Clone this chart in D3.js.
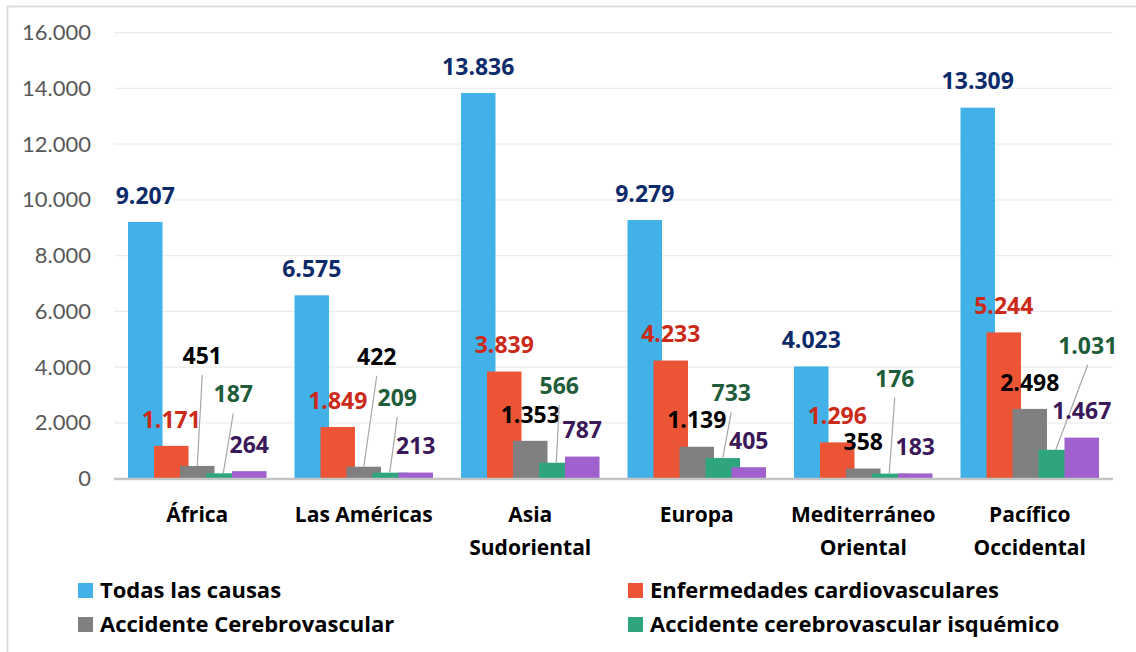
<!DOCTYPE html>
<html>
<head>
<meta charset="utf-8">
<script src="https://cdn.jsdelivr.net/npm/d3@7"></script>
<style>
  html, body { margin: 0; padding: 0; background: #fff; }
  svg { display: block; font-family: "Open Sans", Lato, sans-serif; }
</style>
</head>
<body>
<svg id="chart" width="1136" height="652"></svg>
<script>
// ---------- data ----------
const categories = ["África", "Las Américas", "Asia Sudoriental", "Europa", "Mediterráneo Oriental", "Pacífico Occidental"];
const categoryLines = [["África"], ["Las Américas"], ["Asia", "Sudoriental"], ["Europa"], ["Mediterráneo", "Oriental"], ["Pacífico", "Occidental"]];
const seriesNames = ["Todas las causas", "Enfermedades cardiovasculares", "Accidente Cerebrovascular", "Accidente cerebrovascular isquémico", "Accidente cerebrovascular hemorrágico"];
const todasLasCausas = [9207, 6575, 13836, 9279, 4023, 13309];
const cardiovasculares = [1171, 1849, 3839, 4233, 1296, 5244];
const cerebrovascular = [451, 422, 1353, 1139, 358, 2498];
const isquemico = [187, 209, 566, 733, 176, 1031];
const hemorragico = [264, 213, 787, 405, 183, 1467];
const yTicks = [0, 2000, 4000, 6000, 8000, 10000, 12000, 14000, 16000];
const legendSeries = [0, 1, 2, 3];

// ---------- styles ----------
const barColors = ["#41B1E8", "#EB5434", "#808080", "#2FA57E", "#A061CF"];
const labelColors = ["#0D2A6A", "#CC2A18", "#000000", "#1E5C3A", "#3B1859"];
// label offsets (pixels) for labels moved away from their bar, with leader line
const movedLabels = {
  "2-0": [5, -110], "3-0": [10, -79],
  "2-1": [13, -110], "3-1": [7.5, -74.5],
  "3-2": [3, -77],
  "3-3": [8.5, -65],
  "3-4": [5.5, -95],
  "3-5": [32, -104]
};

const allSeries = [todasLasCausas, cardiovasculares, cerebrovascular, isquemico, hemorragico];

const svg = d3.select("#chart");
const fmt = d3.formatLocale({ decimal: ",", thousands: ".", grouping: [3], currency: ["", ""] }).format(",d");

// frame
svg.append("rect")
  .attr("x", 7.5).attr("y", 6.5).attr("width", 1140).attr("height", 660)
  .attr("fill", "none").attr("stroke", "#d9d9d9").attr("stroke-width", 1.8);

const plotL = 114, plotR = 1113;
const y = d3.scaleLinear().domain([0, 16000]).range([478.5, 32.7]);
const x = d3.scaleBand().domain(categories).range([plotL, plotR]).padding(0);
const xs = d3.scalePoint().domain(d3.range(5)).range([-52, 52]);
const barW = 34.5;

// gridlines
svg.append("g").selectAll("line")
  .data(yTicks.filter(d => d > 0))
  .join("line")
  .attr("x1", plotL).attr("x2", plotR)
  .attr("y1", d => y(d)).attr("y2", d => y(d))
  .attr("stroke", "#ececec").attr("stroke-width", 1.3);

// y axis labels
const yAxis = d3.axisLeft(y).tickValues(yTicks).tickFormat(fmt).tickSize(0).tickPadding(0);
const gy = svg.append("g").attr("transform", "translate(91,0)").call(yAxis);
gy.select(".domain").remove();
gy.selectAll("text")
  .attr("font-family", "Lato, sans-serif")
  .attr("font-size", 22).attr("fill", "#595959");

// bars
const groups = svg.append("g").selectAll("g")
  .data(categories)
  .join("g")
  .attr("transform", d => `translate(${x(d) + x.bandwidth() / 2},0)`);

groups.each(function (cat, ci) {
  const g = d3.select(this);
  allSeries.forEach((vals, si) => {
    g.append("rect")
      .attr("x", xs(si) - barW / 2)
      .attr("y", y(vals[ci]))
      .attr("width", barW)
      .attr("height", y(0) - y(vals[ci]))
      .attr("fill", barColors[si]);
  });
});

// axis line
svg.append("line")
  .attr("x1", plotL).attr("x2", plotR)
  .attr("y1", y(0) + 0.5).attr("y2", y(0) + 0.5)
  .attr("stroke", "#c4c4c4").attr("stroke-width", 2.5);

// data labels
groups.each(function (cat, ci) {
  const g = d3.select(this);
  allSeries.forEach((vals, si) => {
    const bx = xs(si), by = y(vals[ci]);
    const key = si + "-" + ci;
    let cx = bx, cy = by - 26.5;
    if (movedLabels[key]) {
      cx = bx + movedLabels[key][0];
      cy = by + movedLabels[key][1];
      g.append("line")
        .attr("x1", cx).attr("y1", cy + 19)
        .attr("x2", bx).attr("y2", by)
        .attr("stroke", "#a6a6a6").attr("stroke-width", 1.2);
    }
    g.append("text")
      .attr("x", cx).attr("y", cy + 8.2)
      .attr("text-anchor", "middle")
      .attr("font-size", 23).attr("font-weight", "bold")
      .attr("fill", labelColors[si])
      .text(fmt(vals[ci]));
  });
});

// category labels
groups.each(function (cat, ci) {
  const t = d3.select(this).append("text")
    .attr("text-anchor", "middle")
    .attr("font-size", 21).attr("font-weight", "bold").attr("fill", "#000");
  categoryLines[ci].forEach((ln, li) => {
    t.append("tspan").attr("x", 0).attr("y", 521.5 + li * 33).text(ln);
  });
});

// legend
const legendPos = [[78, 583], [628, 583], [78, 617], [628, 617]];
legendSeries.forEach((si, i) => {
  const [lx, ly] = legendPos[i];
  svg.append("rect").attr("x", lx).attr("y", ly).attr("width", 15).attr("height", 15).attr("fill", barColors[si]);
  svg.append("text").attr("x", lx + 22).attr("y", ly + 14.5)
    .attr("font-size", 22).attr("font-weight", "bold").attr("fill", "#000")
    .text(seriesNames[si]);
});
</script>
</body>
</html>
